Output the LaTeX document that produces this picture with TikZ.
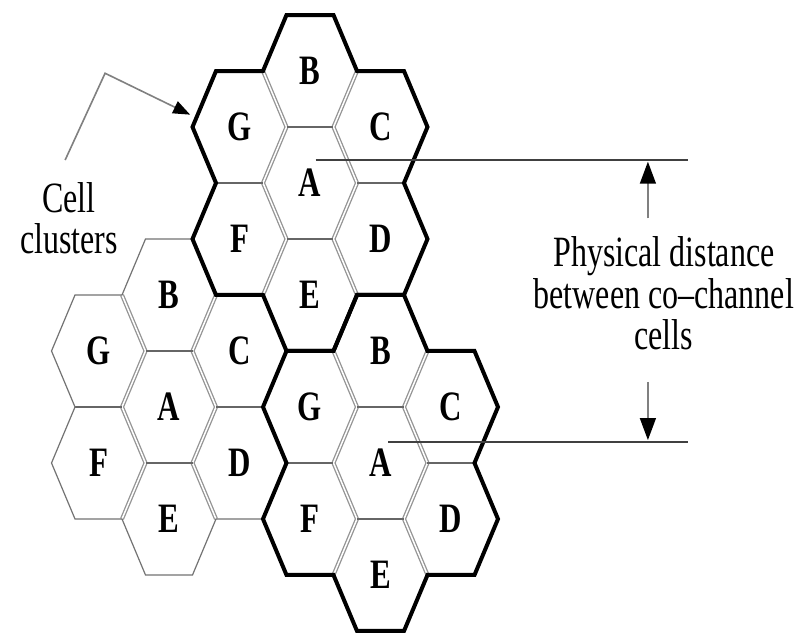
\documentclass[tikz,border=0pt]{standalone}
\usepackage{fontspec}
\setmainfont{Liberation Serif}
\usetikzlibrary{arrows.meta}

\tikzset{
  cell/.style={font=\fontsize{31}{31}\selectfont\bfseries, yscale=1.35, inner sep=0pt},
  note/.style={font=\fontsize{32}{31}\selectfont, yscale=1.35, align=center, inner sep=0pt},
  flatedge/.style={draw=black!60, line width=2pt},
  slantedge/.style={draw=black!42, line width=1.3pt, double=white, double distance=1.5pt},
  boldrim/.style={draw=black, line width=4pt},
  thinrim/.style={draw=black!55, line width=1.2pt},
  gauge/.style={draw=black!75, line width=1.7pt},
  pointer/.style={draw=black!50, line width=1.6pt,
    -{Triangle[length=22pt,width=16pt,color=black]}}
}

% one 7-cell cluster: #1 centre of A, #2 rim style, #3 name prefix
\newcommand{\cluster}[3]{%
  \begin{scope}[shift={#1}]
    \draw[slantedge] (-1,2) -- (-0.5,1) -- (-1,0) -- (-0.5,-1) -- (-1,-2);
    \draw[slantedge] (1,2) -- (0.5,1) -- (1,0) -- (0.5,-1) -- (1,-2);
    \draw[flatedge] (-0.5,1) -- (0.5,1) (-0.5,-1) -- (0.5,-1)
                    (-2,0) -- (-1,0) (1,0) -- (2,0);
    \draw[#2] (-0.5,3) -- (0.5,3) -- (1,2) -- (2,2) -- (2.5,1) -- (2,0)
      -- (2.5,-1) -- (2,-2) -- (1,-2) -- (0.5,-3) -- (-0.5,-3) -- (-1,-2)
      -- (-2,-2) -- (-2.5,-1) -- (-2,0) -- (-2.5,1) -- (-2,2) -- (-1,2) -- cycle;
    \foreach \l/\x/\y in {A/0/0,B/0/2,C/1.5/1,D/1.5/-1,E/0/-2,F/-1.5/-1,G/-1.5/1}
      \node[cell] (#3\l) at (\x,\y) {\l};
  \end{scope}}

\begin{document}
\begin{tikzpicture}[x=47pt,y=56pt]
  \path[use as bounding box,fill=white] (-6.596,-8.107) rectangle (10.426,3.268);

  % clusters (plain one first, bold ones over it)
  \cluster{(-3,-4)}{thinrim}{L}
  \cluster{(0,0)}{boldrim}{T}
  \cluster{(1.5,-5)}{boldrim}{R}

  % label for the clusters
  \node[note] (clusterlbl) at (-5.13,-0.63) {Cell\\clusters};
  \coordinate (lblfoot) at (-5.21,0.41);
  \coordinate (bend) at (-4.36,1.96);
  \coordinate (rimtip) at (-2.55,1.22);
  \draw[pointer,-{Triangle[length=17pt,width=13pt,color=black]}]
    (lblfoot) -- (bend) -- (rimtip);

  % reuse distance
  \coordinate (topline) at (0.12,0.41);
  \coordinate (topend) at (8.04,0.41);
  \coordinate (botline) at (1.66,-4.62);
  \coordinate (botend) at (8.04,-4.62);
  \draw[gauge] (topline) -- (topend);
  \draw[gauge] (botline) -- (botend);

  \node[note] (dist) at (7.53,-1.97)
    {Physical distance\\between co--channel\\cells};
  \coordinate (topmark) at (7.19,0.38);
  \coordinate (topstub) at (7.19,-0.63);
  \coordinate (botmark) at (7.19,-4.59);
  \coordinate (botstub) at (7.19,-3.55);
  \draw[pointer] (topstub) -- (topmark);
  \draw[pointer] (botstub) -- (botmark);
\end{tikzpicture}
\end{document}
